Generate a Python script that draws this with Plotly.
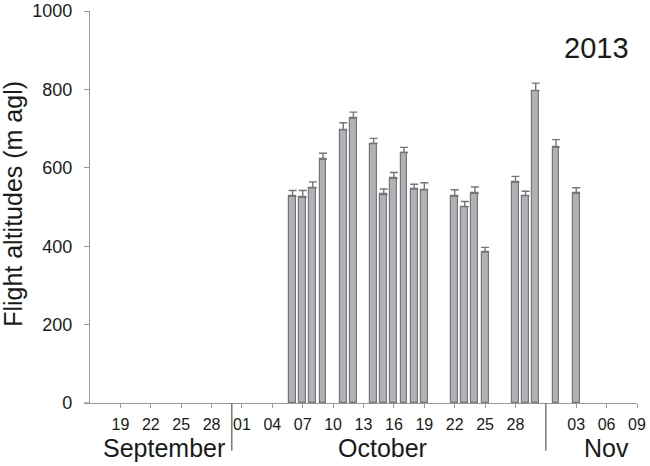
import plotly.graph_objects as go

# ---- data ----
dates = ["2013-10-06", "2013-10-07", "2013-10-08", "2013-10-09", "2013-10-11",
         "2013-10-12", "2013-10-14", "2013-10-15", "2013-10-16", "2013-10-17",
         "2013-10-18", "2013-10-19", "2013-10-22", "2013-10-23", "2013-10-24",
         "2013-10-25", "2013-10-28", "2013-10-29", "2013-10-30", "2013-11-01",
         "2013-11-03"]
altitudes = [527, 525, 549, 622, 697, 726, 662, 532, 573, 639, 546, 544,
             527, 501, 535, 385, 563, 529, 797, 652, 535]
errors = [15, 17, 15, 15, 18, 16, 13, 14, 15, 13, 12, 18,
          17, 13, 16, 12, 15, 11, 19, 20, 14]

tick_dates = ["2013-09-19", "2013-09-22", "2013-09-25", "2013-09-28",
              "2013-10-01", "2013-10-04", "2013-10-07", "2013-10-10",
              "2013-10-13", "2013-10-16", "2013-10-19", "2013-10-22",
              "2013-10-25", "2013-10-28", "2013-11-03", "2013-11-06",
              "2013-11-09"]
tick_labels = ["19", "22", "25", "28", "01", "04", "07", "10", "13", "16",
               "19", "22", "25", "28", "03", "06", "09"]

month_names = ["September", "October", "Nov"]
month_label_dates = ["2013-09-23 08:00", "2013-10-14 20:00", "2013-11-06"]
month_boundaries = ["2013-09-30", "2013-10-31"]

y_ticks = [0, 200, 400, 600, 800, 1000]
year_label = "2013"

FONT = "Liberation Sans, Arial, Helvetica, sans-serif"
AXIS_GRAY = "#9a9a9a"
TEXT = "#1a1a1a"

fig = go.Figure()
fig.add_trace(go.Bar(
    x=dates,
    y=altitudes,
    width=0.68 * 86400000,
    marker=dict(color="#b2b2b6", line=dict(color="#75757a", width=1.2)),
    error_y=dict(type="data", array=errors, arrayminus=[0] * len(errors),
                 symmetric=False, color="#75757a", thickness=1.4, width=4),
    showlegend=False,
))

# month separators below the axis
for d in month_boundaries:
    fig.add_shape(type="line", xref="x", yref="paper", x0=d, x1=d,
                  y0=0, y1=-0.122, line=dict(color="#6f6f6f", width=1.4))

# small left extension of the x axis line
fig.add_shape(type="line", xref="paper", yref="paper", x0=-0.011, x1=0,
              y0=0, y1=0, line=dict(color=AXIS_GRAY, width=1.4))

for name, d in zip(month_names, month_label_dates):
    fig.add_annotation(x=d, xref="x", y=-0.114, yref="paper", text=name,
                       showarrow=False, xanchor="center", yanchor="middle",
                       font=dict(family=FONT, size=25, color=TEXT))

fig.add_annotation(x=1, xref="paper", y=0.905, yref="paper", text=year_label,
                   showarrow=False, xanchor="right", yanchor="middle", xshift=-6,
                   font=dict(family=FONT, size=29, color=TEXT))

fig.add_annotation(x=0, xref="paper", y=0.508, yref="paper",
                   text="Flight altitudes (m agl)", textangle=-90,
                   showarrow=False, xanchor="center", yanchor="middle", xshift=-77,
                   font=dict(family=FONT, size=25, color=TEXT))

fig.update_layout(
    width=650, height=466,
    margin=dict(l=90, r=13, t=11, b=63, autoexpand=False),
    paper_bgcolor="white", plot_bgcolor="white",
    font=dict(family=FONT, color=TEXT),
    bargap=0,
)
fig.update_xaxes(
    type="date", automargin=False,
    range=["2013-09-16", "2013-11-09"],
    tickvals=tick_dates, ticktext=tick_labels,
    ticks="outside", ticklen=4, tickwidth=1.2, tickcolor=AXIS_GRAY,
    showline=True, linecolor=AXIS_GRAY, linewidth=1.4,
    showgrid=False, zeroline=False,
    tickfont=dict(family=FONT, size=16, color=TEXT),
    ticklabelstandoff=3,
)
fig.update_yaxes(
    range=[0, 1000], automargin=False,
    tickvals=y_ticks,
    ticks="outside", ticklen=5, tickwidth=1.2, tickcolor=AXIS_GRAY,
    showline=True, linecolor=AXIS_GRAY, linewidth=1.4,
    showgrid=False, zeroline=False,
    tickfont=dict(family=FONT, size=18, color=TEXT),
    ticklabelstandoff=8,
)

fig.write_html("out.html",
               config={"displayModeBar": False},
               post_script="document.body.style.margin='0';"
                           "document.body.style.overflow='hidden';")
